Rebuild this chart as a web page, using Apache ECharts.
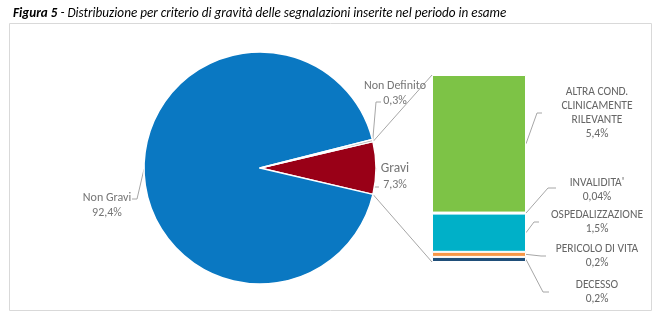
<!DOCTYPE html>
<html><head><meta charset="utf-8">
<script src="https://cdn.jsdelivr.net/npm/echarts@6/dist/echarts.min.js"></script>
<style>html,body{margin:0;padding:0;background:#fff}#c{width:672px;height:335px}</style>
</head><body><div id="c"></div>
<script>
// ---- data ----
const pieNames = ['Gravi', 'Non Gravi', 'Non Definito'];
const pieValues = [7.3, 92.4, 0.3];
const barNames = ['DECESSO', 'PERICOLO DI VITA', 'OSPEDALIZZAZIONE', "INVALIDITA'", 'ALTRA COND.\nCLINICAMENTE\nRILEVANTE'];
const barValues = [0.2, 0.2, 1.5, 0.04, 5.4];
const titleBold = 'Figura 5';
const titleRest = ' - Distribuzione per criterio di gravità delle segnalazioni inserite nel periodo in esame';

// ---- styles / layout ----
const pieColors = ['#990017', '#0a78c2', '#a5a5a5'];
const barColors = ['#1f4e79', '#f79646', '#00b0c8', '#4bacc6', '#7dc346'];
const FONT = 'Carlito, "Liberation Sans", sans-serif';
const PIE_C = [260, 168], PIE_R = 116;
const pieLabelPos = [[395, 176], [107, 205], [395, 93]];
const pieLeader = [[[374, 187], [379, 187]], [[137, 199], [132, 199]], [[376, 102], [381, 102]]];
const barLabelX = 597;
const barLabelY = [292, 256.5, 222, 190, 113];
const barLeader = [[[543, 292], [549, 292]], [[541, 256], [546, 256]], [[534, 222], [539, 222]], [[548, 188], [556, 188]], [[537, 113], [542, 113]]];

const fmt = v => String(v).replace('.', ',') + '%';
const pieTotal = pieValues.reduce((a, b) => a + b, 0);
const barTotal = barValues.reduce((a, b) => a + b, 0);
const startAngle = pieValues[0] / pieTotal * 360 / 2;

const chart = echarts.init(document.getElementById('c'), null, {renderer: 'canvas'});

const series = [{
  type: 'pie', center: PIE_C, radius: PIE_R, startAngle: startAngle, clockwise: true,
  animation: false, silent: true,
  data: pieNames.map((n, i) => ({name: n, value: pieValues[i], itemStyle: {color: pieColors[i]}})),
  itemStyle: {borderColor: '#fff', borderWidth: 1.5},
  label: {
    show: true, fontFamily: FONT, fontSize: 12, color: '#757575', lineHeight: 15, align: 'center',
    formatter: p => p.dataIndex === 0 ? '{g|' + p.name + '}\n{v|' + fmt(p.value) + '}' : p.name + '\n' + fmt(p.value),
    rich: {g: {fontSize: 13.5, fontFamily: FONT, color: '#757575', lineHeight: 17}, v: {fontSize: 12, fontFamily: FONT, color: '#757575', lineHeight: 15}}
  },
  labelLine: {show: false},
  labelLayout: p => ({x: pieLabelPos[p.dataIndex][0], y: pieLabelPos[p.dataIndex][1], align: 'center', verticalAlign: 'middle'})
}];
barNames.forEach((n, i) => {
  series.push({
    type: 'bar', name: n, stack: 'g', xAxisIndex: 0, yAxisIndex: 0, barWidth: '100%',
    animation: false, silent: true,
    data: [barValues[i]],
    itemStyle: {color: barColors[i], borderColor: '#fff', borderWidth: 1},
    label: {show: true, position: 'right', fontFamily: FONT, fontSize: 11.5, color: '#666', lineHeight: 14, align: 'center',
      formatter: () => n + '\n' + fmt(barValues[i])},
    labelLayout: {x: barLabelX, y: barLabelY[i], align: 'center', verticalAlign: 'middle'}
  });
});

chart.setOption({
  animation: false,
  title: {
    text: '{b|' + titleBold + '}' + titleRest, left: 8, top: 2,
    textStyle: {fontFamily: FONT, fontSize: 13.2, fontStyle: 'italic', fontWeight: 'normal', color: '#000',
      rich: {b: {fontFamily: FONT, fontSize: 13.2, fontStyle: 'italic', fontWeight: 'bold', color: '#000'}}}
  },
  grid: {left: 432, top: 75, width: 94, height: 187},
  xAxis: {type: 'category', data: ['g'], show: false},
  yAxis: {type: 'value', min: 0, max: barTotal, show: false},
  series: series
});

// ---- decorations computed from data through the library ----
const rect = chart.getModel().getComponent('grid', 0).coordinateSystem.getRect();
const yPix = v => chart.convertToPixel({yAxisIndex: 0}, v);
const arcPt = deg => [PIE_C[0] + PIE_R * Math.cos(deg * Math.PI / 180), PIE_C[1] - PIE_R * Math.sin(deg * Math.PI / 180)];
const lineStyle = {stroke: '#a6a6a6', fill: null, lineWidth: 1};
const graphics = [{
  type: 'rect', z: -10, shape: {x: 9.5, y: 23.5, width: 642, height: 287}, style: {stroke: '#d9d9d9', fill: null, lineWidth: 1}
}];
// connectors from Gravi slice to stacked bar
const gStart = arcPt(startAngle), gEnd = arcPt(startAngle - pieValues[0] / pieTotal * 360);
graphics.push({type: 'polyline', shape: {points: [gStart, [rect.x, yPix(barTotal)]]}, style: lineStyle});
graphics.push({type: 'polyline', shape: {points: [gEnd, [rect.x, yPix(0)]]}, style: lineStyle});
// pie leader lines
let acc = 0;
pieValues.forEach((v, i) => {
  const mid = startAngle - (acc + v / 2) / pieTotal * 360;
  acc += v;
  graphics.push({type: 'polyline', shape: {points: [arcPt(mid), pieLeader[i][0], pieLeader[i][1]]}, style: lineStyle});
});
// bar leader lines
let cum = 0;
barValues.forEach((v, i) => {
  const ym = yPix(cum + v / 2);
  cum += v;
  graphics.push({type: 'polyline', shape: {points: [[rect.x + rect.width, ym], barLeader[i][0], barLeader[i][1]]}, style: lineStyle});
});
chart.setOption({graphic: graphics});
</script></body></html>
